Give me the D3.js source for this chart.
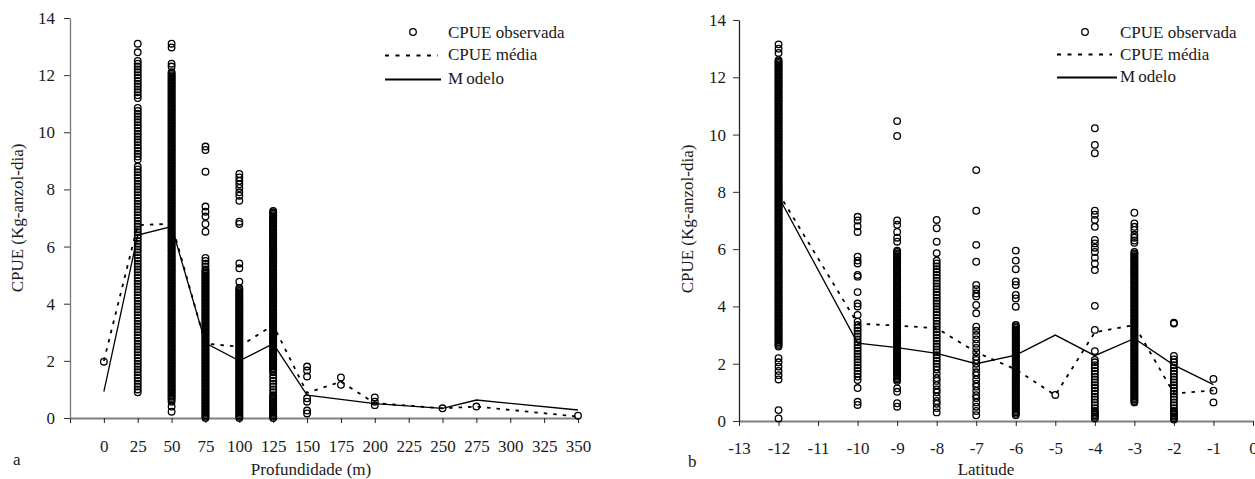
<!DOCTYPE html>
<html><head><meta charset="utf-8">
<script src="https://cdn.jsdelivr.net/npm/d3@7"></script>
<style>html,body{margin:0;padding:0;background:#fff;} svg{display:block;}</style>
</head><body><svg id="c" width="1255" height="479"></svg>
<script>
// ---------- Panel a: Profundidade ----------
const depthCats = [0,25,50,75,100,125,150,175,200,250,275,350];
const depthObs = [
 [1.97],
 [13.1,12.8,12.5,12.4,12.3,12.2,12.1,12,11.9,11.8,11.7,11.6,11.5,11.4,11.3,11.2,10.85,10.75,10.65,10.55,10.45,10.35,10.25,10.15,10.05,9.95,9.85,9.75,9.65,9.55,9.45,9.35,9.25,9.15,9.05,8.8,8.7,8.6,8.5,8.4,8.3,8.2,8.1,8,7.9,7.8,7.7,7.6,7.5,7.4,7.3,7.2,7.1,7,6.9,6.8,6.7,6.6,6.5,6.4,6.3,6.2,6.1,6,5.9,5.8,5.7,5.6,5.5,5.4,5.3,5.2,5.1,5,4.9,4.8,4.7,4.6,4.5,4.4,4.3,4.2,4.1,4,3.9,3.8,3.7,3.6,3.5,3.4,3.3,3.2,3.1,3,2.9,2.8,2.7,2.6,2.5,2.4,2.3,2.2,2.1,2,1.9,1.8,1.7,1.6,1.5,1.4,1.3,1.2,1.1,1,0.9],
 [13.1,12.97,12.4,12.3,12.1,12.05,12,11.95,11.9,11.85,11.8,11.75,11.7,11.65,11.6,11.55,11.5,11.45,11.4,11.35,11.3,11.25,11.2,11.15,11.1,11.05,11,10.95,10.9,10.85,10.8,10.75,10.7,10.65,10.6,10.55,10.5,10.45,10.4,10.35,10.3,10.25,10.2,10.15,10.1,10.05,10,9.95,9.9,9.85,9.8,9.75,9.7,9.65,9.6,9.55,9.5,9.45,9.4,9.35,9.3,9.25,9.2,9.15,9.1,9.05,9,8.95,8.9,8.85,8.8,8.75,8.7,8.65,8.6,8.55,8.5,8.45,8.4,8.35,8.3,8.25,8.2,8.15,8.1,8.05,8,7.95,7.9,7.85,7.8,7.75,7.7,7.65,7.6,7.55,7.5,7.45,7.4,7.35,7.3,7.25,7.2,7.15,7.1,7.05,7,6.95,6.9,6.85,6.8,6.75,6.7,6.65,6.6,6.55,6.5,6.45,6.4,6.35,6.3,6.25,6.2,6.15,6.1,6.05,6,5.95,5.9,5.85,5.8,5.75,5.7,5.65,5.6,5.55,5.5,5.45,5.4,5.35,5.3,5.25,5.2,5.15,5.1,5.05,5,4.95,4.9,4.85,4.8,4.75,4.7,4.65,4.6,4.55,4.5,4.45,4.4,4.35,4.3,4.25,4.2,4.15,4.1,4.05,4,3.95,3.9,3.85,3.8,3.75,3.7,3.65,3.6,3.55,3.5,3.45,3.4,3.35,3.3,3.25,3.2,3.15,3.1,3.05,3,2.95,2.9,2.85,2.8,2.75,2.7,2.65,2.6,2.55,2.5,2.45,2.4,2.35,2.3,2.25,2.2,2.15,2.1,2.05,2,1.95,1.9,1.85,1.8,1.75,1.7,1.65,1.6,1.55,1.5,1.45,1.4,1.35,1.3,1.25,1.2,1.15,1.1,1.05,1,0.95,0.9,0.85,0.8,0.75,0.7,0.65,0.57,0.4,0.22],
 [9.5,9.38,8.62,7.4,7.22,7.05,6.79,6.52,5.6,5.5,5.4,5.3,5.2,5.15,5.1,5.05,5,4.95,4.9,4.85,4.8,4.75,4.7,4.65,4.6,4.55,4.5,4.45,4.4,4.35,4.3,4.25,4.2,4.15,4.1,4.05,4,3.95,3.9,3.85,3.8,3.75,3.7,3.65,3.6,3.55,3.5,3.45,3.4,3.35,3.3,3.25,3.2,3.15,3.1,3.05,3,2.95,2.9,2.85,2.8,2.75,2.7,2.65,2.6,2.55,2.5,2.45,2.4,2.35,2.3,2.25,2.2,2.15,2.1,2.05,2,1.95,1.9,1.85,1.8,1.75,1.7,1.65,1.6,1.55,1.5,1.45,1.4,1.35,1.3,1.25,1.2,1.15,1.1,1.05,1,0.95,0.9,0.85,0.8,0.75,0.7,0.65,0.6,0.55,0.5,0.45,0.4,0.35,0.3,0.25,0.2,0.15,0.1,0.05,0],
 [8.54,8.42,8.3,8.18,8.05,7.9,7.78,7.6,6.87,6.79,5.41,5.24,4.77,4.55,4.5,4.45,4.4,4.35,4.3,4.25,4.2,4.15,4.1,4.05,4,3.95,3.9,3.85,3.8,3.75,3.7,3.65,3.6,3.55,3.5,3.45,3.4,3.35,3.3,3.25,3.2,3.15,3.1,3.05,3,2.95,2.9,2.85,2.8,2.75,2.7,2.65,2.6,2.55,2.5,2.45,2.4,2.35,2.3,2.25,2.2,2.15,2.1,2.05,2,1.95,1.9,1.85,1.8,1.75,1.7,1.65,1.6,1.55,1.5,1.45,1.4,1.35,1.3,1.25,1.2,1.15,1.1,1.05,1,0.95,0.9,0.85,0.8,0.75,0.7,0.65,0.6,0.55,0.5,0.45,0.4,0.35,0.3,0.25,0.2,0.15,0.1,0.05,0],
 [7.25,7.2,7.15,7.1,7.05,7,6.95,6.9,6.85,6.8,6.75,6.7,6.65,6.6,6.55,6.5,6.45,6.4,6.35,6.3,6.25,6.2,6.15,6.1,6.05,6,5.95,5.9,5.85,5.8,5.75,5.7,5.65,5.6,5.55,5.5,5.45,5.4,5.35,5.3,5.25,5.2,5.15,5.1,5.05,5,4.95,4.9,4.85,4.8,4.75,4.7,4.65,4.6,4.55,4.5,4.45,4.4,4.35,4.3,4.25,4.2,4.15,4.1,4.05,4,3.95,3.9,3.85,3.8,3.75,3.7,3.65,3.6,3.55,3.5,3.45,3.4,3.35,3.3,3.25,3.2,3.15,3.1,3.05,3,2.95,2.9,2.85,2.8,2.75,2.7,2.65,2.6,2.55,2.5,2.45,2.4,2.35,2.3,2.25,2.2,2.15,2.1,2.05,2,1.95,1.9,1.85,1.8,1.75,1.7,1.65,1.6,1.5,1.4,1.3,1.2,1.1,1,0.9,0.8,0.75,0.7,0.65,0.6,0.55,0.5,0.45,0.4,0.35,0.3,0.25,0.2,0.15,0.1,0.05,0],
 [1.8,1.66,1.45,0.69,0.57,0.26,0.16],
 [1.42,1.16],
 [0.72,0.57,0.45],
 [0.34],
 [0.4],
 [0.08]
];
const depthMean  = [2.0,6.75,6.8,2.6,2.5,3.25,0.88,1.27,0.52,0.34,0.4,0.05];
const depthModel = [0.92,6.4,6.7,2.62,2.0,2.6,0.8,0.65,0.5,0.34,0.63,0.28];
const depthTicks = [-25,0,25,50,75,100,125,150,175,200,225,250,275,300,325,350];
const depthLabels = [0,25,50,75,100,125,150,175,200,225,250,275,300,325,350];

// ---------- Panel b: Latitude ----------
const latCats = [-12,-10,-9,-8,-7,-6,-5,-4,-3,-2,-1];
const latObs = [
 [13.15,13,12.85,12.6,12.55,12.5,12.45,12.4,12.35,12.3,12.25,12.2,12.15,12.1,12.05,12,11.95,11.9,11.85,11.8,11.75,11.7,11.65,11.6,11.55,11.5,11.45,11.4,11.35,11.3,11.25,11.2,11.15,11.1,11.05,11,10.95,10.9,10.85,10.8,10.75,10.7,10.65,10.6,10.55,10.5,10.45,10.4,10.35,10.3,10.25,10.2,10.15,10.1,10.05,10,9.95,9.9,9.85,9.8,9.75,9.7,9.65,9.6,9.55,9.5,9.45,9.4,9.35,9.3,9.25,9.2,9.15,9.1,9.05,9,8.95,8.9,8.85,8.8,8.75,8.7,8.65,8.6,8.55,8.5,8.45,8.4,8.35,8.3,8.25,8.2,8.15,8.1,8.05,8,7.95,7.9,7.85,7.8,7.75,7.7,7.65,7.6,7.55,7.5,7.45,7.4,7.35,7.3,7.25,7.2,7.15,7.1,7.05,7,6.95,6.9,6.85,6.8,6.75,6.7,6.65,6.6,6.55,6.5,6.45,6.4,6.35,6.3,6.25,6.2,6.15,6.1,6.05,6,5.95,5.9,5.85,5.8,5.75,5.7,5.65,5.6,5.55,5.5,5.45,5.4,5.35,5.3,5.25,5.2,5.15,5.1,5.05,5,4.95,4.9,4.85,4.8,4.75,4.7,4.65,4.6,4.55,4.5,4.45,4.4,4.35,4.3,4.25,4.2,4.15,4.1,4.05,4,3.95,3.9,3.85,3.8,3.75,3.7,3.65,3.6,3.55,3.5,3.45,3.4,3.35,3.3,3.25,3.2,3.15,3.1,3.05,3,2.95,2.9,2.85,2.8,2.75,2.7,2.65,2.6,2.19,2.05,1.9,1.75,1.6,1.45,0.38,0.09],
 [7.13,7.0,6.8,6.6,5.74,5.6,5.5,5.1,5.04,4.5,4.1,4.0,3.7,3.47,3.35,3.25,3.15,3.05,2.95,2.85,2.75,2.65,2.55,2.45,2.35,2.25,2.15,2.05,1.95,1.85,1.75,1.65,1.55,1.43,1.15,0.67,0.56],
 [10.47,9.95,7.0,6.85,6.6,6.4,6.26,5.95,5.9,5.85,5.8,5.75,5.7,5.65,5.6,5.55,5.5,5.45,5.4,5.35,5.3,5.25,5.2,5.15,5.1,5.05,5,4.95,4.9,4.85,4.8,4.75,4.7,4.65,4.6,4.55,4.5,4.45,4.4,4.35,4.3,4.25,4.2,4.15,4.1,4.05,4,3.95,3.9,3.85,3.8,3.75,3.7,3.65,3.6,3.55,3.5,3.45,3.4,3.35,3.3,3.25,3.2,3.15,3.1,3.05,3,2.95,2.9,2.85,2.8,2.75,2.7,2.65,2.6,2.55,2.5,2.45,2.4,2.35,2.3,2.25,2.2,2.15,2.1,2.05,2,1.95,1.9,1.85,1.8,1.75,1.7,1.65,1.6,1.55,1.5,1.45,1.4,1.14,1.02,0.62,0.5],
 [7.02,6.73,6.26,5.86,5.6,5.5,5.4,5.3,5.2,5.1,5,4.9,4.8,4.7,4.6,4.5,4.4,4.3,4.2,4.1,4,3.9,3.8,3.7,3.6,3.5,3.4,3.3,3.2,3.1,3,2.9,2.8,2.7,2.6,2.5,2.4,2.3,2.2,2.1,2,1.9,1.8,1.65,1.5,1.4,1.25,1.1,1,0.85,0.7,0.6,0.45,0.3],
 [8.76,7.34,6.15,5.56,4.75,4.6,4.45,4.35,4.05,3.76,3.29,3.15,3,2.85,2.7,2.55,2.4,2.24,2.13,2,1.85,1.7,1.6,1.45,1.3,1.2,1.05,0.9,0.8,0.65,0.5,0.35,0.2],
 [5.95,5.6,5.3,4.87,4.75,4.4,4.28,3.99,3.35,3.3,3.25,3.2,3.15,3.1,3.05,3,2.95,2.9,2.85,2.8,2.75,2.7,2.65,2.6,2.55,2.5,2.45,2.4,2.35,2.3,2.25,2.2,2.15,2.1,2.05,2,1.95,1.9,1.85,1.8,1.75,1.7,1.65,1.6,1.55,1.5,1.45,1.4,1.35,1.3,1.25,1.2,1.15,1.1,1.05,1,0.95,0.9,0.85,0.8,0.75,0.7,0.65,0.6,0.55,0.5,0.45,0.4,0.35,0.3,0.25,0.2],
 [0.91],
 [10.22,9.64,9.35,7.34,7.2,7.02,6.78,6.32,6.2,6.05,5.9,5.7,5.5,5.27,4.02,3.18,2.44,2.13,2.05,1.95,1.85,1.75,1.65,1.55,1.45,1.35,1.25,1.15,1.05,0.95,0.85,0.75,0.65,0.55,0.45,0.35,0.3,0.25,0.2,0.15,0.09],
 [7.27,6.9,6.78,6.67,6.5,6.4,6.3,6.22,5.9,5.85,5.8,5.75,5.7,5.65,5.6,5.55,5.5,5.45,5.4,5.35,5.3,5.25,5.2,5.15,5.1,5.05,5,4.95,4.9,4.85,4.8,4.75,4.7,4.65,4.6,4.55,4.5,4.45,4.4,4.35,4.3,4.25,4.2,4.15,4.1,4.05,4,3.95,3.9,3.85,3.8,3.75,3.7,3.65,3.6,3.55,3.5,3.45,3.4,3.35,3.3,3.25,3.2,3.15,3.1,3.05,3,2.95,2.9,2.85,2.8,2.75,2.7,2.65,2.6,2.55,2.5,2.45,2.4,2.35,2.3,2.25,2.2,2.15,2.1,2.05,2,1.95,1.9,1.85,1.8,1.75,1.7,1.65,1.6,1.55,1.5,1.45,1.4,1.35,1.3,1.25,1.2,1.15,1.1,1.05,1,0.95,0.9,0.85,0.8,0.75,0.7,0.65],
 [3.43,3.4,2.27,2.15,2.05,1.95,1.85,1.75,1.65,1.55,1.45,1.35,1.25,1.15,1.05,0.95,0.85,0.75,0.65,0.55,0.45,0.35,0.3,0.25,0.2,0.15,0.1,0.05],
 [1.47,1.06,0.65]
];
const latMean  = [7.95,3.4,3.33,3.24,2.4,1.8,0.9,3.1,3.35,0.96,1.07];
const latModel = [7.83,2.72,2.56,2.36,2.0,2.3,3.0,2.28,2.88,1.95,1.27];
const latTicks = [-13,-12,-11,-10,-9,-8,-7,-6,-5,-4,-3,-2,-1,0];
const latLabels = latTicks;

const yTicks = [0,2,4,6,8,10,12,14];
const legendLabels = ["CPUE observada","CPUE média","Modelo"];
const yTitle = "CPUE (Kg-anzol-dia)";

// ---------- drawing ----------
const FONT = "'Liberation Serif','Times New Roman',Times,serif";
const svg = d3.select('#c');
svg.append('rect').attr('width',1255).attr('height',479).attr('fill','#fff');

function panel(o){
  const x = d3.scaleLinear().domain(o.xDomain).range(o.xRange);
  const y = d3.scaleLinear().domain([0,14]).range(o.yRange);
  const g = svg.append('g');

  const xa = g.append('g').attr('transform',`translate(0,${o.yRange[0]})`)
    .call(d3.axisBottom(x).tickValues(o.xTicks)
      .tickFormat(d => o.xLabels.includes(d) ? String(d) : '')
      .tickSize(5).tickSizeOuter(0).tickPadding(o.xPad));
  xa.select('.domain').attr('stroke','#808080').attr('stroke-width',2);
  xa.selectAll('.tick line').attr('stroke','#222').attr('stroke-width',1);
  xa.selectAll('.tick text').attr('font-family',FONT).attr('font-size',17).attr('fill','#1a1a1a');

  const ya = g.append('g').attr('transform',`translate(${o.xRange[0]},0)`)
    .call(d3.axisLeft(y).tickValues(yTicks).tickSize(6).tickSizeOuter(0).tickPadding(o.yPad));
  ya.select('.domain').attr('stroke',o.yAxisColor).attr('stroke-width',1.3);
  ya.selectAll('.tick line').attr('stroke','#333').attr('stroke-width',1);
  ya.selectAll('.tick text').attr('font-family',FONT).attr('font-size',17).attr('fill','#1a1a1a');

  // observed points
  const pts = [];
  o.cats.forEach((c,i) => o.obs[i].forEach(v => pts.push([c,v])));
  g.append('g').selectAll('circle').data(pts).join('circle')
    .attr('cx', d => x(d[0])).attr('cy', d => y(d[1])).attr('r',3.3)
    .attr('fill','none').attr('stroke','#000').attr('stroke-width',1.3);

  const line = d3.line().x(d => x(d[0])).y(d => y(d[1]));
  g.append('path').datum(o.cats.map((c,i)=>[c,o.mean[i]])).attr('d',line)
    .attr('fill','none').attr('stroke','#000').attr('stroke-width',1.8).attr('stroke-dasharray','3.5,6');
  g.append('path').datum(o.cats.map((c,i)=>[c,o.model[i]])).attr('d',line)
    .attr('fill','none').attr('stroke','#000').attr('stroke-width',1.3);

  // titles
  g.append('text').attr('x',o.xTitlePos[0]).attr('y',o.xTitlePos[1]).attr('text-anchor','middle')
    .attr('font-family',FONT).attr('font-size',17).attr('fill','#1a1a1a').text(o.xTitle);
  g.append('text').attr('transform',`translate(${o.yTitlePos[0]},${o.yTitlePos[1]}) rotate(-90)`)
    .attr('text-anchor','middle').attr('dominant-baseline','central')
    .attr('font-family',FONT).attr('font-size',17).attr('fill','#1a1a1a').text(yTitle);
  g.append('text').attr('x',o.letterPos[0]).attr('y',o.letterPos[1])
    .attr('font-family',FONT).attr('font-size',17).attr('fill','#1a1a1a').text(o.letter);

  // legend
  const L = o.legend;
  g.append('circle').attr('cx',L.cx).attr('cy',32).attr('r',3.3).attr('fill','none').attr('stroke','#000').attr('stroke-width',1.3);
  g.append('line').attr('x1',L.x1).attr('x2',L.x2d).attr('y1',L.yd).attr('y2',L.yd)
    .attr('stroke','#000').attr('stroke-width',1.8).attr('stroke-dasharray','4,6.5');
  g.append('line').attr('x1',L.x1).attr('x2',L.x2s).attr('y1',L.ys).attr('y2',L.ys)
    .attr('stroke','#000').attr('stroke-width',1.8);
  const tx = g.append('g').attr('font-family',FONT).attr('font-size',17).attr('fill','#1a1a1a');
  tx.append('text').attr('x',L.tx).attr('y',37.5).text(legendLabels[0]);
  tx.append('text').attr('x',L.tx).attr('y',60).text(legendLabels[1]);
  const m = tx.append('text').attr('x',L.tx).attr('y',L.ty3);
  m.append('tspan').text(legendLabels[2].slice(0,1));
  m.append('tspan').attr('dx',3).text(legendLabels[2].slice(1));
}

panel({
  cats: depthCats, obs: depthObs, mean: depthMean, model: depthModel,
  xDomain: [-25,350], xRange: [70,578], yRange: [418,18],
  xTicks: depthTicks, xLabels: depthLabels, xPad: 17, yPad: 9, yAxisColor: '#777',
  xTitle: 'Profundidade (m)', xTitlePos: [311,475], yTitlePos: [17.5,218],
  letter: 'a', letterPos: [13,465],
  legend: {cx:413, x1:385, x2d:438, x2s:441, yd:55.5, ys:79.5, tx:448, ty3:84}
});
panel({
  cats: latCats, obs: latObs, mean: latMean, model: latModel,
  xDomain: [-13,0], xRange: [739,1253], yRange: [421,20],
  xTicks: latTicks, xLabels: latLabels, xPad: 16, yPad: 7, yAxisColor: '#222',
  xTitle: 'Latitude', xTitlePos: [986,475], yTitlePos: [687,219],
  letter: 'b', letterPos: [688,467],
  legend: {cx:1085, x1:1057, x2d:1112, x2s:1117, yd:54.5, ys:77.5, tx:1120, ty3:82}
});
</script>
</body></html>
